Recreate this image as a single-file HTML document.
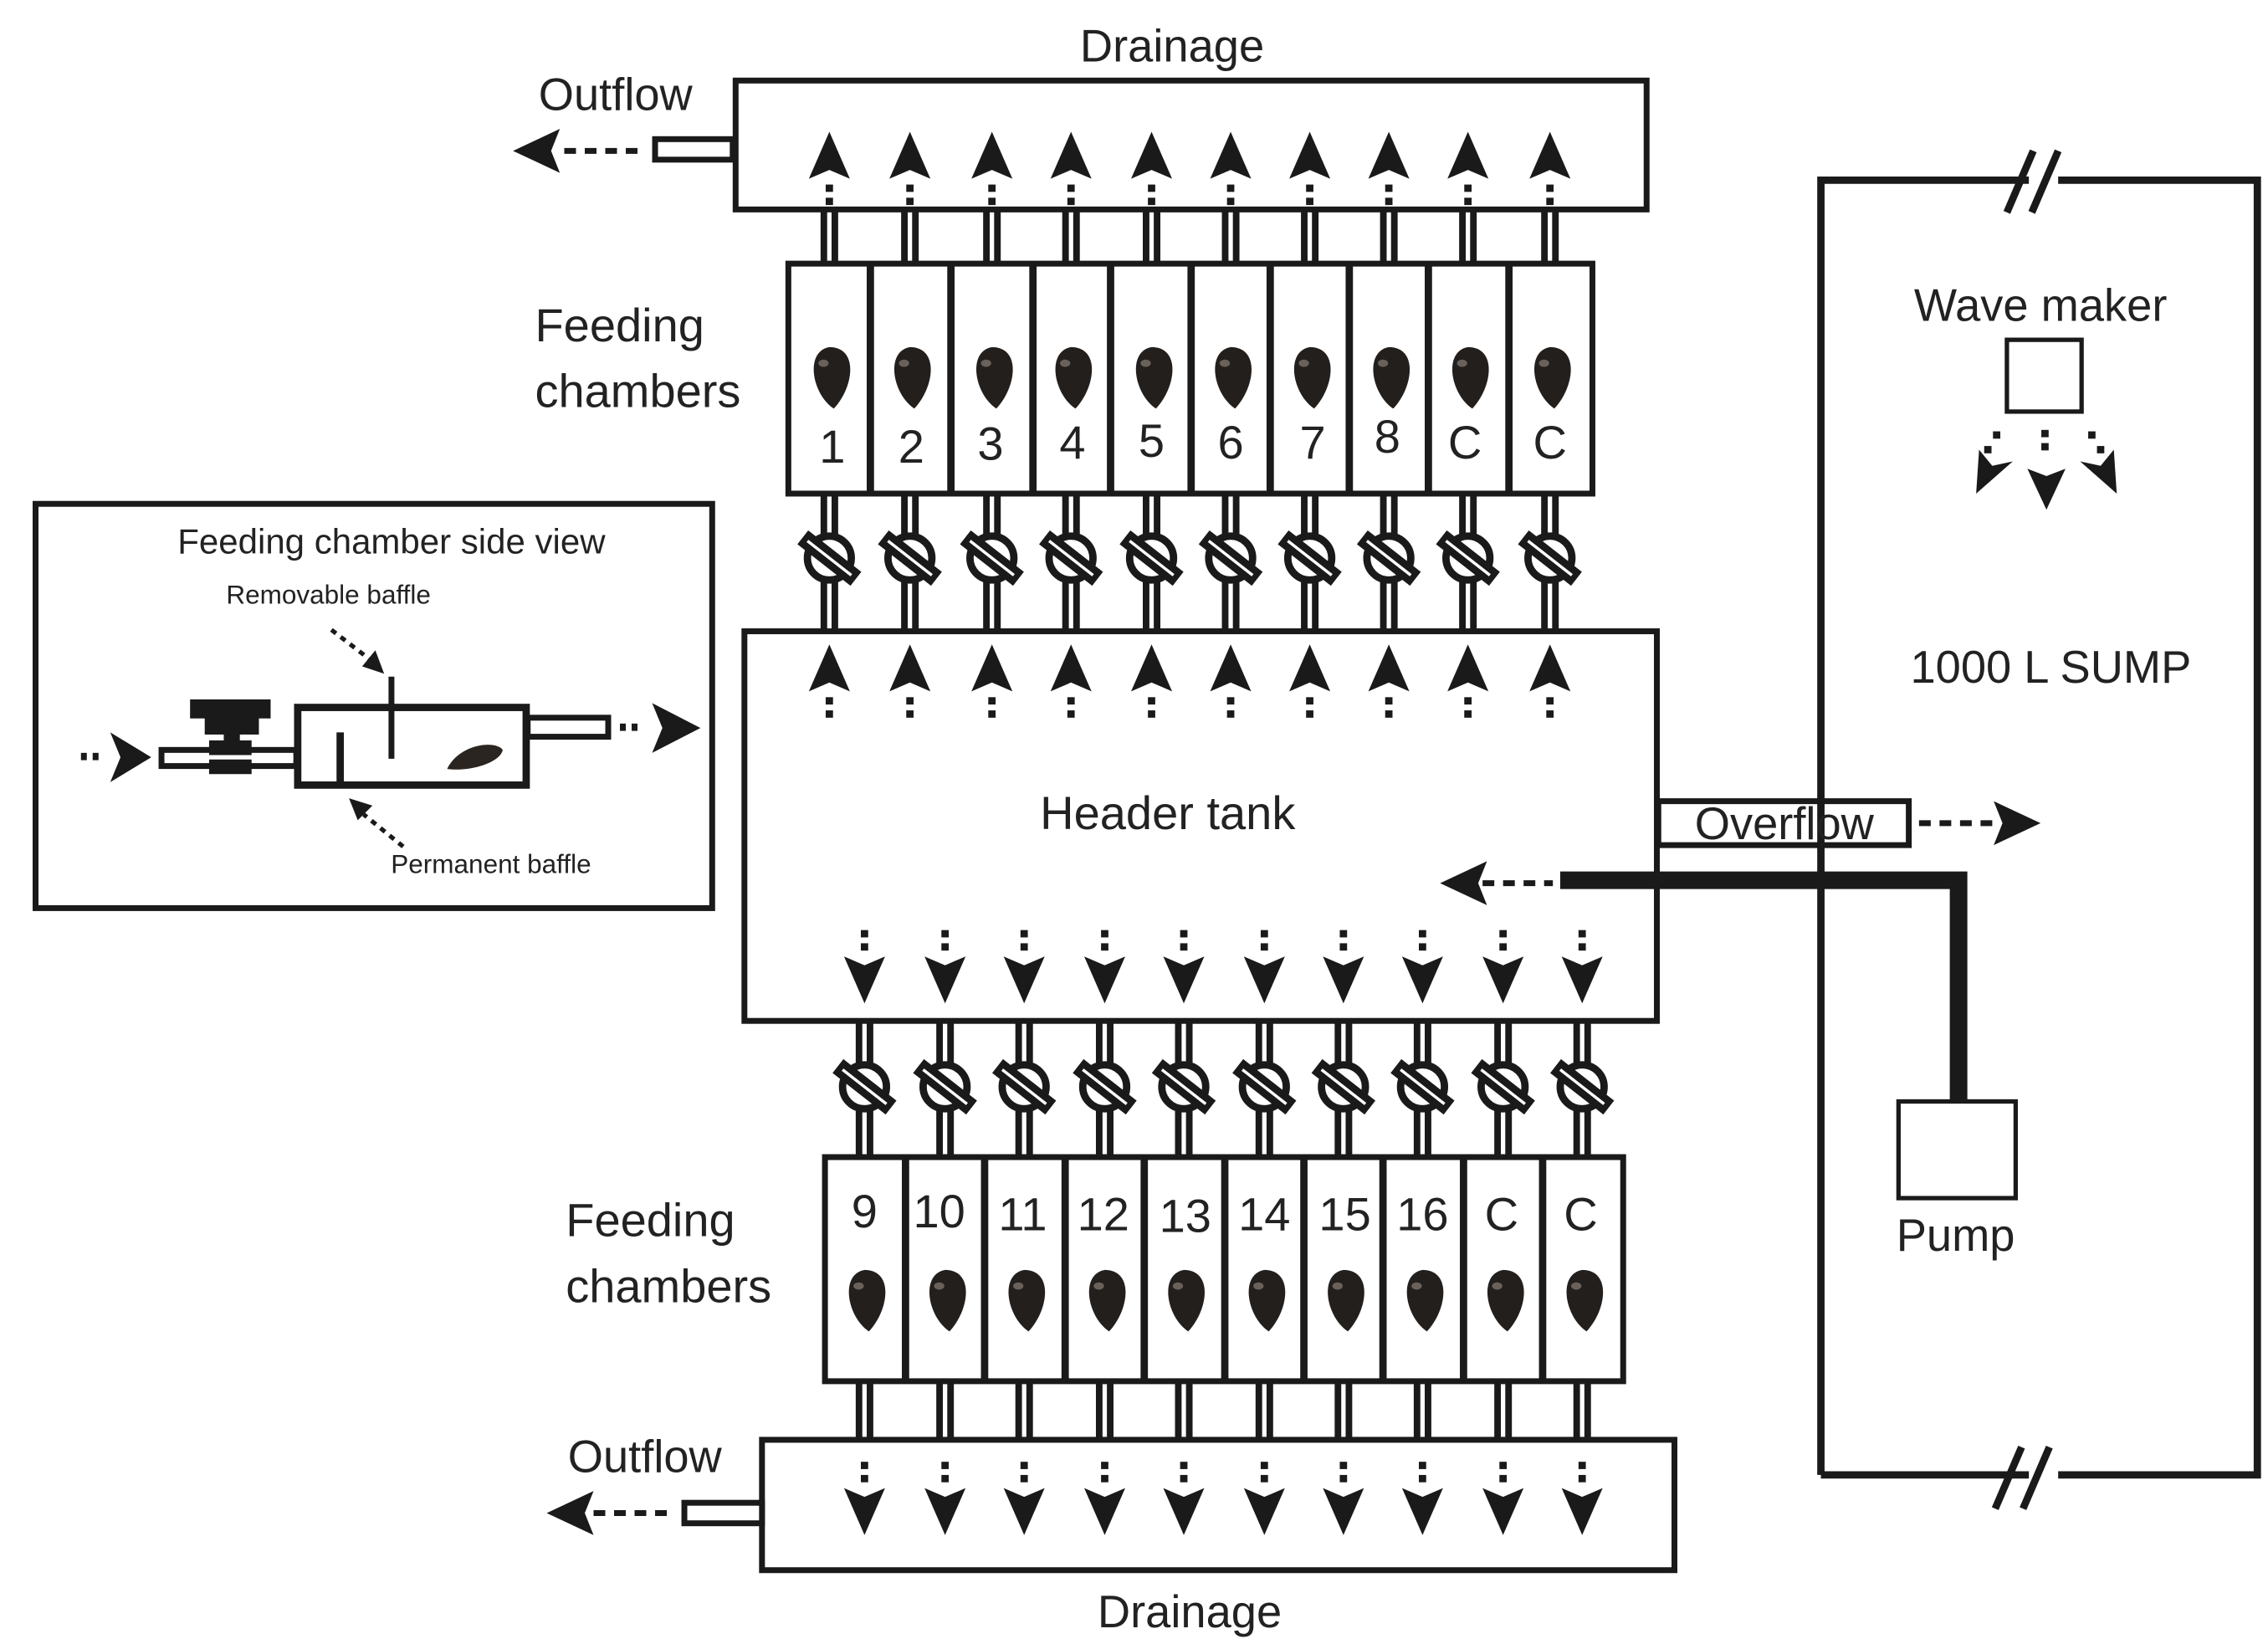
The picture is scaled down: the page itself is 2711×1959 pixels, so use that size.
<!DOCTYPE html>
<html><head><meta charset="utf-8"><style>
html,body{margin:0;padding:0;background:#fff}
svg{display:block}
text{font-family:"Liberation Sans",sans-serif;fill:#222}
</style></head><body>
<svg id="s" width="2711" height="1959" viewBox="0 0 1548 1119" xmlns="http://www.w3.org/2000/svg">
<rect width="1548" height="1119" fill="#fff"/>
<g id="g" stroke="#1a1a1a" fill="none"></g>
<rect x="502" y="55" width="622" height="88" fill="none" stroke="#1a1a1a" stroke-width="4"/>
<rect x="447" y="95" width="53" height="14" fill="#fff" stroke="#1a1a1a" stroke-width="4"/>
<rect x="508" y="431" width="623" height="266" fill="none" stroke="#1a1a1a" stroke-width="4"/>
<rect x="520" y="983" width="623" height="89" fill="none" stroke="#1a1a1a" stroke-width="4"/>
<rect x="467" y="1026" width="53" height="14" fill="#fff" stroke="#1a1a1a" stroke-width="4"/>
<rect x="1132" y="547" width="171" height="30" fill="#fff" stroke="#1a1a1a" stroke-width="4"/>
<path d="M1243,1007 L1243,123 L1385,123 M1405,123 L1541,123 L1541,1007 L1405,1007 M1385,1007 L1243,1007" fill="none" stroke="#1a1a1a" stroke-width="5"/>
<path d="M1370,145 L1388,103 M1387,145 L1405,103 M1362,1030 L1380,988 M1381,1030 L1399,988" stroke="#1a1a1a" stroke-width="5"/>
<rect x="1370" y="232" width="51" height="49" fill="#fff" stroke="#1a1a1a" stroke-width="3"/>
<path d="M1065,601 L1337,601 L1337,752" fill="none" stroke="#1a1a1a" stroke-width="12"/>
<rect x="1296" y="752" width="80" height="66" fill="#fff" stroke="#1a1a1a" stroke-width="3"/>
<rect x="24" y="344" width="462" height="276" fill="none" stroke="#1a1a1a" stroke-width="4"/>
<g stroke="#1a1a1a" fill="none">
<rect x="110" y="512" width="92" height="11" stroke-width="4"/>
<rect x="130" y="478" width="54" height="12" fill="#1a1a1a"/>
<rect x="140" y="490" width="36" height="11" fill="#1a1a1a"/>
<rect x="153" y="500" width="10" height="8" fill="#1a1a1a"/>
<rect x="143" y="506" width="28" height="22" fill="#1a1a1a"/>
<line x1="112" y1="517" x2="200" y2="517" stroke="#fff" stroke-width="3"/>
<rect x="203" y="483" width="156" height="53" stroke-width="5"/>
<line x1="267" y1="462" x2="267" y2="518" stroke-width="4"/>
<line x1="232" y1="500" x2="232" y2="536" stroke-width="5"/>
<rect x="360" y="490" width="55" height="13" stroke-width="4"/>
<path d="M305,525 C313,508 338,505 343,512 C341,521 320,527 305,525Z" fill="#2a2520" stroke="none"/>
<rect x="55" y="514" width="4" height="5" fill="#1a1a1a" stroke="none"/><rect x="63" y="514" width="4" height="5" fill="#1a1a1a" stroke="none"/>
<path d="M75,500 L103,517 L75,534 L82,517Z" fill="#1a1a1a" stroke="none"/>
<rect x="423" y="494" width="4" height="5" fill="#1a1a1a" stroke="none"/><rect x="431" y="494" width="4" height="5" fill="#1a1a1a" stroke="none"/>
<path d="M445,480 L478,497 L445,514 L452,497Z" fill="#1a1a1a" stroke="none"/>
<line x1="226" y1="430" x2="252" y2="450" stroke-width="3" stroke-dasharray="4,4"/>
<path d="M262,460 L247,455 L256,444Z" fill="#1a1a1a" stroke="none"/>
<line x1="275" y1="578" x2="248" y2="556" stroke-width="3" stroke-dasharray="4,4"/>
<path d="M238,545 L254,550 L244,560Z" fill="#1a1a1a" stroke="none"/>
</g>
<g id="t">
<text x="800" y="42" font-size="31" text-anchor="middle">Drainage</text>
<text x="420" y="75" font-size="31" text-anchor="middle">Outflow</text>
<text x="365" y="233" font-size="32">Feeding</text>
<text x="365" y="278" font-size="32">chambers</text>
<text x="386" y="844" font-size="32">Feeding</text>
<text x="386" y="889" font-size="32">chambers</text>
<text x="440" y="1005" font-size="31" text-anchor="middle">Outflow</text>
<text x="812" y="1111" font-size="31" text-anchor="middle">Drainage</text>
<text x="797" y="566" font-size="32" text-anchor="middle">Header tank</text>
<text x="1218" y="573" font-size="31" text-anchor="middle">Overflow</text>
<text x="1335" y="854" font-size="31" text-anchor="middle">Pump</text>
<text x="1393" y="219" font-size="31" text-anchor="middle">Wave maker</text>
<text x="1400" y="466" font-size="31" text-anchor="middle">1000 L SUMP</text>
<text x="267" y="378" font-size="24" text-anchor="middle">Feeding chamber side view</text>
<text x="224" y="412" font-size="18" text-anchor="middle">Removable baffle</text>
<text x="335" y="596" font-size="18" text-anchor="middle">Permanent baffle</text>
<g font-size="32" text-anchor="middle">
<text x="568" y="316">1</text><text x="622" y="316">2</text><text x="676" y="314">3</text><text x="732" y="313">4</text><text x="786" y="312">5</text><text x="840" y="313">6</text><text x="896" y="313">7</text><text x="947" y="309">8</text><text x="1000" y="313">C</text><text x="1058" y="313">C</text>
<text x="590" y="838">9</text><text x="641" y="838">10</text><text x="698" y="840">11</text><text x="753" y="840">12</text><text x="809" y="841">13</text><text x="863" y="840">14</text><text x="918" y="840">15</text><text x="971" y="840">16</text><text x="1025" y="840">C</text><text x="1079" y="840">C</text>
</g>
</g>
</svg>
<script>
var NS="http://www.w3.org/2000/svg",g=document.getElementById('g');
function el(n,a){var e=document.createElementNS(NS,n);for(var k in a)e.setAttribute(k,a[k]);g.appendChild(e);return e;}
var K="#1a1a1a";
function pipe(x,y1,y2){el('rect',{x:x-6,y:y1,width:12,height:y2-y1,fill:K,stroke:'none'});el('line',{x1:x,y1:y1,x2:x,y2:y2,stroke:'#fff','stroke-width':3});}
function valve(x,y){el('circle',{cx:x,cy:y,r:15,fill:'#fff',stroke:K,'stroke-width':5});
 var r=el('g',{transform:'translate('+x+','+y+') rotate(38)'});
 var a=document.createElementNS(NS,'rect');a.setAttribute('x',-23);a.setAttribute('y',-6);a.setAttribute('width',46);a.setAttribute('height',12);a.setAttribute('fill',K);a.setAttribute('stroke','none');r.appendChild(a);
 var l=document.createElementNS(NS,'line');l.setAttribute('x1',-19);l.setAttribute('x2',19);l.setAttribute('y1',0);l.setAttribute('y2',0);l.setAttribute('stroke','#fff');l.setAttribute('stroke-width',2);r.appendChild(l);}
function up(x,t){el('path',{d:'M'+x+','+t+' L'+(x+14)+','+(t+32)+' L'+x+','+(t+26)+' L'+(x-14)+','+(t+32)+'Z',fill:K,stroke:'none'});
 el('rect',{x:x-2.5,y:t+36,width:5,height:5,fill:K,stroke:'none'});el('rect',{x:x-2.5,y:t+45,width:5,height:5,fill:K,stroke:'none'});}
function down(x,t){el('rect',{x:x-2.5,y:t,width:5,height:5,fill:K,stroke:'none'});el('rect',{x:x-2.5,y:t+9,width:5,height:5,fill:K,stroke:'none'});
 var b=t+50;el('path',{d:'M'+x+','+b+' L'+(x+14)+','+(b-32)+' L'+x+','+(b-26)+' L'+(x-14)+','+(b-32)+'Z',fill:K,stroke:'none'});}
function mussel(x,y){el('path',{d:'M'+x+','+(y-19)+' C'+(x+20)+','+(y-19)+' '+(x+17)+','+(y+8)+' '+(x+3)+','+(y+23)+' C'+(x-12)+','+(y+13)+' '+(x-17)+','+(y-16)+' '+x+','+(y-19)+'Z',fill:'#231f1c',stroke:'none'});
 el('ellipse',{cx:x-4,cy:y-8,rx:3.5,ry:2.5,fill:'#6a625a',stroke:'none'});}
var tc=[566,621,677,731,786,840,894,948,1002,1058], tb=[538,594,649,705,758,813,867,921,975,1030,1087];
var bc=[590,645,699,754,808,863,917,971,1026,1080], bb=[563,618,672,727,781,836,890,944,999,1053,1108];
tc.forEach(function(x){pipe(x,143,180);pipe(x,337,431);valve(x,381);up(x,90);up(x,440);});
bc.forEach(function(x){pipe(x,697,790);pipe(x,943,983);valve(x,742);down(x,635);down(x,998);});
el('rect',{x:538,y:180,width:549,height:157,fill:'none',stroke:K,'stroke-width':4});
for(var i=1;i<10;i++)el('line',{x1:tb[i],y1:180,x2:tb[i],y2:337,stroke:K,'stroke-width':5});
el('rect',{x:563,y:790,width:545,height:153,fill:'none',stroke:K,'stroke-width':4});
for(var i=1;i<10;i++)el('line',{x1:bb[i],y1:790,x2:bb[i],y2:943,stroke:K,'stroke-width':5});
tc.forEach(function(x){mussel(x,256);});
bc.forEach(function(x){mussel(x,886);});
function hdash(x1,x2,y){el('line',{x1:x1,y1:y,x2:x2,y2:y,stroke:K,'stroke-width':4,'stroke-dasharray':'8,6'});}
hdash(385,440,103);el('path',{d:'M350,103 L382,88 L376,103 L382,118Z',fill:K,stroke:'none'});
hdash(405,460,1033);el('path',{d:'M373,1033 L405,1018 L399,1033 L405,1048Z',fill:K,stroke:'none'});
hdash(1310,1362,562);el('path',{d:'M1393,562 L1361,547 L1367,562 L1361,577Z',fill:K,stroke:'none'});
hdash(1012,1060,603);el('path',{d:'M983,603 L1015,588 L1009,603 L1015,618Z',fill:K,stroke:'none'});
el('path',{d:'M1397,348 L1384,320 L1397,325 L1410,320Z',fill:K,stroke:'none'});
el('path',{d:'M1349,337 L1351,307 L1360,318 L1374,315Z',fill:K,stroke:'none'});
el('path',{d:'M1445,337 L1443,307 L1434,318 L1420,315Z',fill:K,stroke:'none'});
[[1396,296],[1396,305],[1363,297],[1357,307],[1428,297],[1434,307]].forEach(function(p){el('rect',{x:p[0]-2.5,y:p[1]-2.5,width:5,height:5,fill:K,stroke:'none'});});
</script>
</body></html>
